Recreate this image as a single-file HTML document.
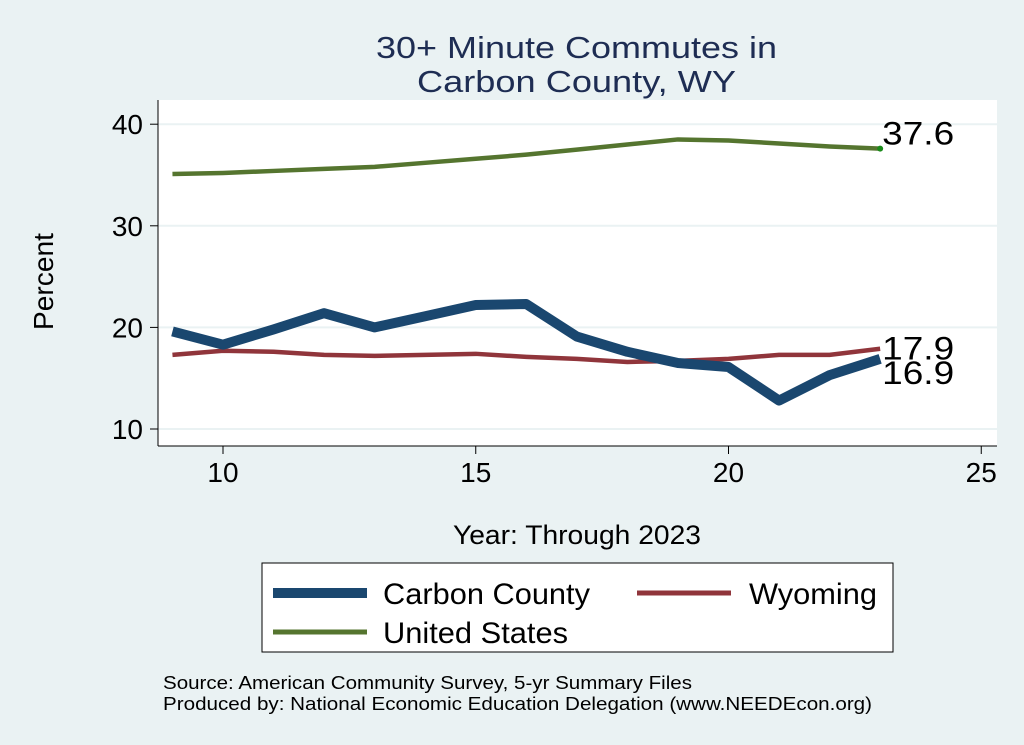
<!DOCTYPE html>
<html><head><meta charset="utf-8"><style>
body{margin:0;background:#eaf2f3;}
svg{display:block;font-family:"Liberation Sans",Arial,sans-serif;}
</style></head><body>
<svg id="chart" width="1024" height="745">
<rect x="0" y="0" width="1024" height="745" fill="#eaf2f3"/>
<rect x="158" y="100" width="839" height="346" fill="#fff"/>
<text x="376" y="58" font-size="31" fill="#1e2d53" textLength="401" lengthAdjust="spacingAndGlyphs">30+ Minute Commutes in</text>
<text x="417" y="92" font-size="31" fill="#1e2d53" textLength="319" lengthAdjust="spacingAndGlyphs">Carbon County, WY</text>
<g id="grid"></g><g id="axes"></g><g id="series"></g>
<text x="0" y="0" font-size="28" fill="#000" textLength="97" lengthAdjust="spacingAndGlyphs" transform="translate(53 330) rotate(-90)">Percent</text>
<text x="453" y="544" font-size="27" fill="#000" textLength="248" lengthAdjust="spacingAndGlyphs">Year: Through 2023</text>
<rect x="262" y="563" width="631" height="89" fill="#fff" stroke="#000" stroke-width="1"/>
<g>
<line x1="273" y1="593" x2="367" y2="593" stroke="#1a476f" stroke-width="10"/>
<text x="383" y="604" font-size="30" textLength="207" lengthAdjust="spacingAndGlyphs">Carbon County</text></g>
<g>
<line x1="637" y1="593" x2="731" y2="593" stroke="#90353b" stroke-width="5"/>
<text x="749" y="604" font-size="30" textLength="128" lengthAdjust="spacingAndGlyphs">Wyoming</text></g>
<g>
<line x1="273" y1="632" x2="367" y2="632" stroke="#55752f" stroke-width="5"/>
<text x="383" y="643" font-size="30" textLength="185" lengthAdjust="spacingAndGlyphs">United States</text></g>
<text x="163" y="689" font-size="18" textLength="529" lengthAdjust="spacingAndGlyphs">Source: American Community Survey, 5-yr Summary Files</text>
<text x="163" y="710" font-size="18" textLength="709" lengthAdjust="spacingAndGlyphs">Produced by: National Economic Education Delegation (www.NEEDEcon.org)</text>
</svg>
<script>
const years=[9,10,11,12,13,14,15,16,17,18,19,20,21,22,23];
const carbon=[19.6,18.3,19.8,21.4,20.0,21.1,22.2,22.3,19.1,17.6,16.5,16.1,12.8,15.3,16.9];
const wyoming=[17.3,17.7,17.6,17.3,17.2,17.3,17.4,17.1,16.9,16.6,16.7,16.9,17.3,17.3,17.9];
const us=[35.1,35.2,35.4,35.6,35.8,36.2,36.6,37.0,37.5,38.0,38.5,38.4,38.1,37.8,37.6];
const xTicks=[10,15,20,25];
const yTicks=[10,20,30,40];
const NS="http://www.w3.org/2000/svg";
const xs=v=>223+(v-10)*50.55;
const ys=v=>429-(v-10)*10.16;
function mk(tag,attrs,parent){const e=document.createElementNS(NS,tag);for(const k in attrs)e.setAttribute(k,attrs[k]);parent.appendChild(e);return e;}
const grid=document.getElementById('grid'),axes=document.getElementById('axes'),ser=document.getElementById('series');
mk('line',{x1:158,y1:446,x2:997,y2:446,stroke:'#000','stroke-width':1},axes);
mk('line',{x1:158,y1:100,x2:158,y2:446,stroke:'#000','stroke-width':1},axes);
yTicks.forEach(t=>{
 const g=mk('line',{x1:158,x2:997,y1:ys(t),y2:ys(t),stroke:'#eaf2f3','stroke-width':2},grid);
 
 
 mk('line',{x1:150,x2:158,y1:ys(t),y2:ys(t),stroke:'#000'},axes);
 const tx=mk('text',{x:143,y:ys(t)+10,'font-size':28,'text-anchor':'end'},axes);tx.textContent=t;
 
 
});
xTicks.forEach(t=>{
 mk('line',{x1:xs(t),x2:xs(t),y1:446,y2:454,stroke:'#000'},axes);
 const tx=mk('text',{x:xs(t),y:482,'font-size':28,'text-anchor':'middle'},axes);tx.textContent=t;
 
 
});
function line(vals,color,w,name){
 const p=mk('polyline',{points:vals.map((v,i)=>xs(years[i])+','+ys(v)).join(' '),fill:'none',stroke:color,'stroke-width':w,'stroke-linejoin':'round'},ser);
 
 
}
line(us,'#55752f',4.5,'line-united-states');
line(wyoming,'#90353b',4.5,'line-wyoming');
line(carbon,'#1a476f',10,'line-carbon-county');
function lab(vals,dy,name){
 const n=vals.length-1;
 const t=mk('text',{x:xs(years[n])+2,y:ys(vals[n])+dy,'font-size':32,textLength:72,lengthAdjust:'spacingAndGlyphs'},ser);t.textContent=vals[n].toFixed(1);
 
 
}
mk('circle',{cx:xs(years[14]),cy:ys(us[14]),r:3,fill:'#1a8a1a'},ser);
lab(us,-4,'label-united-states');
lab(wyoming,11,'label-wyoming');
lab(carbon,25,'label-carbon-county');
</script>
</body></html>
